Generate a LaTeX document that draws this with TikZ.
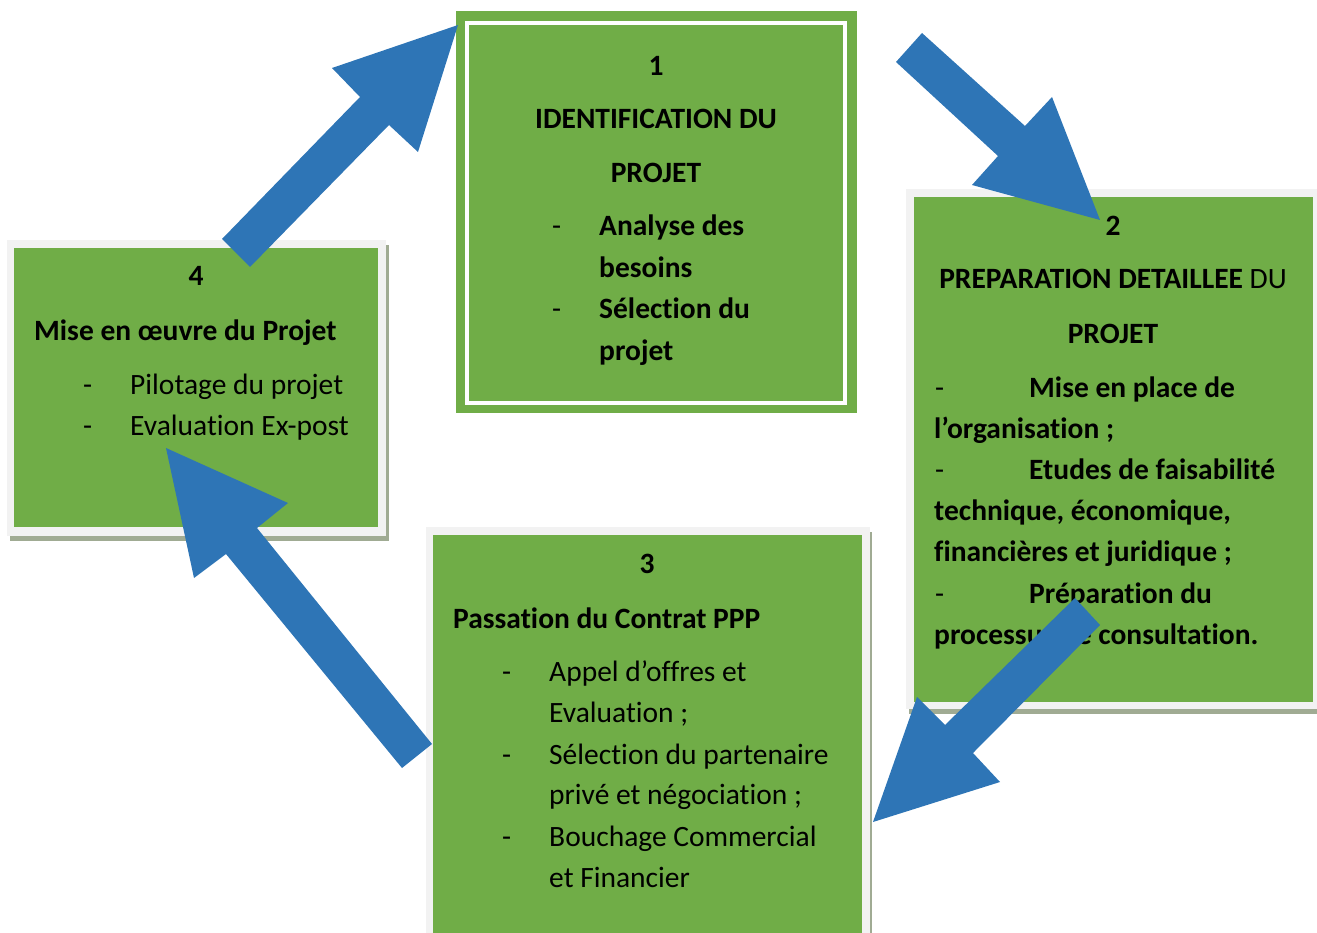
\documentclass[tikz,border=0pt]{standalone}
\usepackage{fontspec}
\setmainfont{Carlito}[Ligatures=NoCommon]
\definecolor{boxgreen}{HTML}{70AD47}
\definecolor{arrowblue}{HTML}{2E75B6}
\definecolor{framegray}{HTML}{F2F2F2}
\definecolor{shadowgray}{HTML}{A0AB93}
\tikzset{
  panel/.style={inner sep=0pt, outer sep=0pt, anchor=north west, draw=none},
  shadowpanel/.style={panel, fill=shadowgray},
  framepanel/.style={panel, fill=framegray},
  greenpanel/.style={panel, fill=boxgreen},
  txt/.style={inner sep=0pt, anchor=base west, yshift=-1pt, font=\fontsize{29.5}{36}\selectfont},
  ctxt/.style={txt, anchor=base},
  btxt/.style={txt, font=\fontsize{29.5}{36}\selectfont\bfseries},
  bctxt/.style={btxt, anchor=base},
  blockarrow/.style={fill=arrowblue, draw=none}
}
\begin{document}
\begin{tikzpicture}[x=1pt, y=-1pt]
\useasboundingbox (0,0) rectangle (1317,933);

% ---- panel 4 (left) ----
\node[shadowpanel, minimum width=379pt, minimum height=296pt] (s4) at (10,245) {};
\node[framepanel, minimum width=379pt, minimum height=296pt] (f4) at (7,240) {};
\node[greenpanel, minimum width=364pt, minimum height=279pt] (g4) at (14,248) {};

% ---- panel 2 (right) ----
\node[shadowpanel, minimum width=420pt, minimum height=520pt] (s2) at (909,194) {};
\node[framepanel, minimum width=420pt, minimum height=520pt] (f2) at (906,189) {};
\node[greenpanel, minimum width=399pt, minimum height=505pt] (g2) at (914,197) {};

% ---- panel 3 (bottom) ----
\node[shadowpanel, minimum width=443pt, minimum height=420pt] (s3) at (429,532) {};
\node[framepanel, minimum width=444pt, minimum height=420pt] (f3) at (426,527) {};
\node[greenpanel, minimum width=429pt, minimum height=410pt] (g3) at (433,535) {};

% ---- panel 1 (top, double border) ----
\node[greenpanel, minimum width=401pt, minimum height=402pt] (g1) at (456,11) {};
\node[panel, draw=white, line width=4pt, minimum width=378pt, minimum height=380pt] (w1) at (467,23) {};

% ---- text of panel 1 ----
\node[bctxt] (t1a) at (656,75) {1};
\node[bctxt] (t1b) at (656,128) {IDENTIFICATION DU};
\node[bctxt] (t1c) at (656,182) {PROJET};
\node[txt] (d1a) at (552,235) {-};
\node[btxt] (t1d) at (599,235) {Analyse des};
\node[btxt] (t1e) at (599,277) {besoins};
\node[txt] (d1b) at (552,318) {-};
\node[btxt] (t1f) at (599,318) {Sélection du};
\node[btxt] (t1g) at (599,359) {projet};

% ---- text of panel 2 ----
\node[bctxt] (t2a) at (1113,235) {2};
\node[ctxt] (t2b) at (1113,288) {\textbf{PREPARATION DETAILLEE} DU};
\node[bctxt] (t2c) at (1113,342) {PROJET};
\node[txt] (d2a) at (935,396) {-};
\node[btxt] (t2d) at (1029,396) {Mise en place de};
\node[btxt] (t2e) at (934,437) {l’organisation ;};
\node[txt] (d2b) at (935,478) {-};
\node[btxt] (t2f) at (1029,478) {Etudes de faisabilité};
\node[btxt] (t2g) at (934,519) {technique, économique,};
\node[btxt] (t2h) at (934,560) {financières et juridique ;};
\node[txt] (d2c) at (935,602) {-};
\node[btxt] (t2i) at (1029,602) {Préparation du};
\node[btxt] (t2j) at (934,643) {processus de consultation.};

% ---- text of panel 3 ----
\node[bctxt] (t3a) at (647,572) {3};
\node[btxt] (t3b) at (453,627) {Passation du Contrat PPP};
\node[txt] (d3a) at (502,680) {-};
\node[txt] (t3c) at (549,680) {Appel d’offres et};
\node[txt] (t3d) at (549,721) {Evaluation ;};
\node[txt] (d3b) at (502,763) {-};
\node[txt] (t3e) at (549,763) {Sélection du partenaire};
\node[txt] (t3f) at (549,803) {privé et négociation ;};
\node[txt] (d3c) at (502,845) {-};
\node[txt] (t3g) at (549,845) {Bouchage Commercial};
\node[txt] (t3h) at (549,886) {et Financier};

% ---- text of panel 4 ----
\node[bctxt] (t4a) at (196,285) {4};
\node[btxt] (t4b) at (34,340) {Mise en œuvre du Projet};
\node[txt] (d4a) at (83,393) {-};
\node[txt] (t4c) at (130,393) {Pilotage du projet};
\node[txt] (d4b) at (83,434) {-};
\node[txt] (t4d) at (130,434) {Evaluation Ex-post};

% ---- block arrows of the cycle ----
% 4 -> 1
\fill[blockarrow] (222,239) -- (360,97) -- (332,68) -- (458,25) -- (418,152)
  -- (389,125) -- (250,267) -- cycle;
% 1 -> 2
\fill[blockarrow] (922,33) -- (1025,126) -- (1052,97) -- (1100,220) -- (972,185)
  -- (998,156) -- (896,62) -- cycle;
% 2 -> 3
\fill[blockarrow] (1075,598) -- (945,725) -- (917,697) -- (873,822) -- (1000,782)
  -- (973,753) -- (1100,625) -- cycle;
% 3 -> 4
\fill[blockarrow] (432,744) -- (257,528) -- (288,503) -- (166,448) -- (194,578)
  -- (226,554) -- (402,768) -- cycle;
\end{tikzpicture}
\end{document}
